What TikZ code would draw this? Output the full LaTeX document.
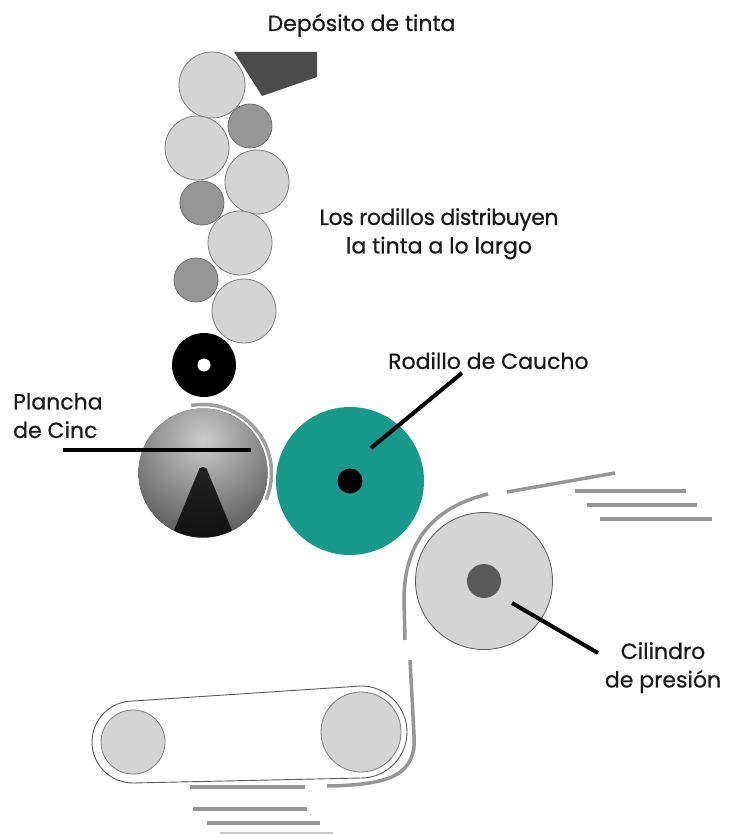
\documentclass[tikz,border=0pt]{standalone}
\usepackage{fontspec}
\usetikzlibrary{calc}
\setmainfont{Poppins}
\newfontfamily\lblfont{Poppins}[FakeBold=0.6]
\definecolor{rollgray}{RGB}{212,212,212}
\definecolor{rolledge}{RGB}{125,125,125}
\definecolor{darkroll}{RGB}{150,150,150}
\definecolor{darkedge}{RGB}{110,110,110}
\definecolor{fountain}{RGB}{75,75,75}
\definecolor{blanket}{RGB}{25,152,140}
\definecolor{papergray}{RGB}{150,150,150}
\definecolor{beltline}{RGB}{90,90,90}
\definecolor{inktext}{RGB}{25,25,25}
\begin{document}
\begin{tikzpicture}[x=1pt,y=-1pt,
  roller/.style={circle, inner sep=0pt, outer sep=0pt, minimum size=#1, fill=rollgray, draw=rolledge, line width=0.8pt},
  smallroll/.style={circle, inner sep=0pt, outer sep=0pt, minimum size=44pt, fill=darkroll, draw=darkedge, line width=0.8pt},
  txt/.style={font=\lblfont\fontsize{22}{28.5}\selectfont, text=inktext, inner sep=0pt},
  leader/.style={line width=4pt, black},
  paper/.style={line width=3.5pt, papergray},
]
\useasboundingbox (0,0) rectangle (736,834);

% --- ink fountain and inking train
\fill[fountain] (234,52) -- (317,52) -- (317,77) -- (262,96) -- cycle;
\node[roller=66pt] (r1) at (212,85) {};
\node[smallroll] (s1) at (250,126) {};
\node[roller=64pt] (r2) at (197,148) {};
\node[roller=64pt] (r3) at (257,182) {};
\node[smallroll] (s2) at (202,203) {};
\node[roller=64pt] (r4) at (240,243) {};
\node[smallroll] (s3) at (196,280) {};
\node[roller=64pt] (r5) at (244,311) {};

% --- form roller
\node[circle, fill=black, inner sep=0pt, minimum size=64pt] (form) at (204,365) {};
\node[circle, fill=white, inner sep=0pt, minimum size=13pt] (formhole) at (form.center) {};

% --- plate cylinder
\node[circle, inner sep=0pt, outer sep=0pt, minimum size=129pt] (plate) at (203,473) {};
\begin{scope}
  \clip (plate.center) circle (64.5);
  \fill[black!88] (plate.center) circle (66);
  \shade[inner color=black!20, outer color=black!88] (203,440) circle (150);
  \fill[black, opacity=0.8] (168,545) -- (198,472)
     arc[start angle=180, end angle=360, radius=5] -- (238,545) -- cycle;
\end{scope}
\draw[line width=3.5pt, gray!75] (plate.center) ++(-100:68.5)
     arc[start angle=-100, end angle=23, radius=68.5];

% --- blanket cylinder
\node[circle, fill=blanket, inner sep=0pt, outer sep=0pt, minimum size=148pt] (blanket) at (350,481) {};
\node[circle, fill=black, inner sep=0pt, minimum size=25pt] (hub) at (blanket.center) {};

% --- impression cylinder
\node[circle, fill=rollgray, draw=black!65, line width=0.8pt, inner sep=0pt, outer sep=0pt, minimum size=137pt] (impr) at (484,581) {};
\node[circle, fill=black!65, inner sep=0pt, minimum size=34pt] (imprhub) at (impr.center) {};

% --- conveyor belt
\node[roller=64pt] (lroll) at (133,742) {};
\node[roller=80pt] (rroll) at (361,732) {};
\draw[beltline, line width=0.9pt] (lroll.center) ++(0,-41)
   arc[start angle=-90, end angle=-270, radius=41]
   -- ($(rroll.center)+(0,46)$)
   arc[start angle=90, end angle=-90, radius=46] -- cycle;

% --- paper path and sheets
\coordinate (p1) at (488,494);
\coordinate (p2) at (405,640);
\draw[paper] (p1) .. controls (430,508) and (404,545) .. (404,600) -- (p2);
\coordinate (p3) at (410,660);
\coordinate (p4) at (327,786);
\draw[paper] (p3) -- (414,735) .. controls (417,775) and (390,785) .. (p4);
\coordinate (sa) at (507,492);
\coordinate (sb) at (615,473);
\draw[paper] (sa) -- (sb);
\draw[paper] (575,491) -- (686,491);
\draw[paper] (587,505) -- (697,505);
\draw[paper] (600,519) -- (712,519);
\draw[paper] (190,787) -- (305,787);
\draw[paper] (193,809) -- (307,809);
\draw[paper] (207,823) -- (320,823);
\draw[line width=2pt, gray!45] (220,833) -- (333,833);

% --- labels and leader lines
\node[txt, anchor=base] (dep) at (361.5,31) {Depósito de tinta};
\node[txt, align=center, anchor=north] (dist) at (439,208)
   {{\addfontfeature{LetterSpace=-2}Los rodillos distribuyen}\\la tinta a lo largo};

\node[txt, align=left, anchor=north west] (zinc) at (13,393) {Plancha\\de Cinc};
\coordinate (zincA) at (63,450);
\coordinate (zincB) at (251,450);
\draw[leader] (zincA) -- (zincB);

\node[txt, anchor=north west] (rub) at (388,352) {Rodillo de Caucho};
\coordinate (rubA) at (462,373);
\coordinate (rubB) at (371,448);
\draw[leader] (rubA) -- (rubB);

\node[txt, align=center, anchor=north] (pres) at (663,642) {Cilindro\\de presión};
\coordinate (presA) at (512,603);
\coordinate (presB) at (598,653);
\draw[leader] (presA) -- (presB);
\end{tikzpicture}
\end{document}
